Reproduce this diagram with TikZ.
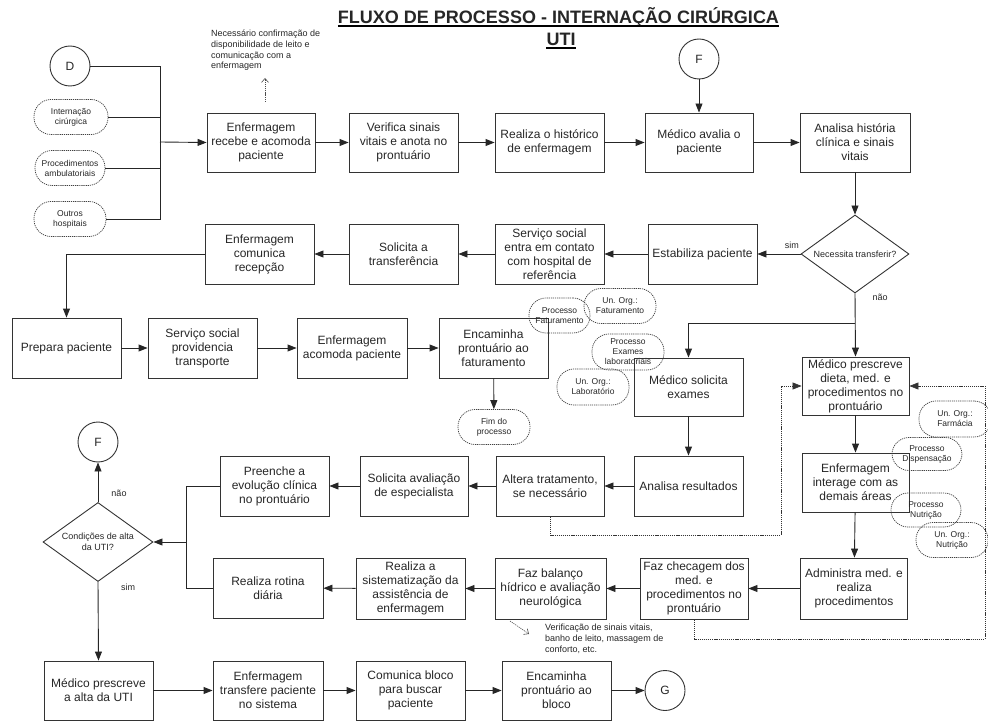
\documentclass[tikz,border=0pt]{standalone}
\usepackage{fontspec}
\setmainfont{Liberation Sans}
\usetikzlibrary{arrows.meta,shapes.geometric}

\begin{document}
\begin{tikzpicture}[x=1pt,y=-1pt,
  every node/.style={text=black!85},
  proc/.style={draw=black!80, line width=0.9pt, minimum width=108pt, minimum height=59pt,
    inner sep=0pt, align=center, font=\fontsize{12}{14}\selectfont},
  term/.style={draw=black!75, line width=0.7pt, dash pattern=on 1.2pt off 0.9pt,
    rounded corners=17pt, minimum width=72pt, minimum height=35pt, inner sep=0pt,
    align=center, font=\fontsize{8.5}{10}\selectfont},
  conn/.style={circle, draw=black!80, line width=0.9pt, minimum size=40pt, inner sep=0pt,
    font=\fontsize{12}{14}\selectfont},
  decision/.style={diamond, draw=black!80, line width=0.9pt, minimum width=108pt,
    minimum height=78pt, inner sep=0pt},
  small/.style={font=\fontsize{9}{10.7}\selectfont, inner sep=0pt, align=left},
  flow/.style={draw=black!85, line width=0.9pt, -{Triangle[length=9pt,width=7pt]}},
  link/.style={draw=black!85, line width=0.9pt},
  dotflow/.style={draw=black!80, line width=0.7pt, dash pattern=on 1.2pt off 0.9pt,
    -{Triangle[length=9pt,width=7pt]}},
  note/.style={draw=black!70, line width=0.6pt, dash pattern=on 1.2pt off 0.9pt,
    -{Straight Barb[length=4pt,width=7pt]}},
]
\useasboundingbox (0,0) rectangle (988,722);

% title
\node[anchor=base, inner sep=0pt, font=\fontsize{18}{20}\bfseries] (t1) at (558.5,24)
  {FLUXO DE PROCESSO - INTERNAÇÃO CIRÚRGICA};
\node[anchor=base, inner sep=0pt, font=\fontsize{18}{20}\bfseries] (t2) at (561,46) {UTI};
\draw[line width=1.2pt] ([yshift=-2pt]t1.base west) -- ([yshift=-2pt]t1.base east);
\draw[line width=1.2pt] ([yshift=-2pt]t2.base west) -- ([yshift=-2pt]t2.base east);

% entry points
\node[conn] (D) at (70,66) {D};
\node[term, minimum width=74pt] (o1) at (71,117) {Internação\\cirúrgica};
\node[term, minimum width=70pt] (o2) at (70,168) {Procedimentos\\ambulatoriais};
\node[term] (o3) at (70,219) {Outros\\hospitais};
\coordinate (bus) at (160,142);

% first row
\node[proc] (n1) at (261,142.5) {Enfermagem\\recebe e acomoda\\paciente};
\node[proc, minimum width=109pt] (n2) at (403.5,142.5) {Verifica sinais\\vitais e anota no\\prontuário};
\node[proc, minimum width=109pt] (n3) at (549.5,142.5) {Realiza o histórico\\de enfermagem};
\node[proc] (n4) at (699,142.5) {Médico avalia o\\paciente};
\node[proc, minimum width=110pt] (n5) at (855,142.5) {Analisa história\\clínica e sinais\\vitais};
\node[conn] (F1) at (699,59) {F};

\node[small, anchor=north west] (a1) at (211,30)
  {Necessário confirmação de\\disponibilidade de leito e\\comunicação com a\\enfermagem};
\coordinate (a1b) at (265,102);
\coordinate (a1t) at (265,78);

% transfer branch
\node[decision] (q1) at (855,254) {};
\node[small, align=center] at (q1) {Necessita transferir?};
\node[proc, minimum width=109pt, minimum height=60pt] (r1) at (702.5,254) {Estabiliza paciente};
\node[proc, minimum width=109pt, minimum height=60pt] (r2) at (549.5,254) {Serviço social\\entra em contato\\com hospital de\\referência};
\node[proc, minimum width=109pt, minimum height=60pt] (r3) at (403.5,254) {Solicita a\\transferência};
\node[proc, minimum width=109pt, minimum height=60pt] (r4) at (259.5,254) {Enfermagem\\comunica\\recepção};

\node[proc, minimum width=109pt, minimum height=60pt] (p1) at (66.5,348) {Prepara paciente};
\node[proc, minimum width=109pt, minimum height=60pt] (p2) at (202.5,348) {Serviço social\\providencia\\transporte};
\node[proc, minimum width=110pt, minimum height=60pt] (p3) at (352,348) {Enfermagem\\acomoda paciente};
\node[proc, minimum width=109pt, minimum height=60pt] (p4) at (493.5,348) {Encaminha\\prontuário ao\\faturamento};
\node[term] (fim) at (494,427) {Fim do\\processo};

\node[term, minimum width=61pt] (ofat) at (559.5,315.5) {Processo\\Faturamento};
\node[term] (ouf) at (620,306) {Un. Org.:\\Faturamento};
\node[term, minimum height=36pt] (oex) at (628,352) {Processo\\Exames\\laboratoriais};
\node[term, minimum height=36pt] (oul) at (593,387) {Un. Org.:\\Laboratório};

% stay in the unit
\coordinate (j1) at (855,323);
\node[proc, minimum width=109pt, minimum height=58pt] (ms) at (688.5,387) {Médico solicita\\exames};
\node[proc, minimum width=107pt, minimum height=58pt] (mp) at (855.5,386) {Médico prescreve\\dieta, med. e\\procedimentos no\\prontuário};
\node[proc, minimum width=109pt, minimum height=60pt] (ar) at (688.5,486) {Analisa resultados};
\node[proc, minimum width=108pt, minimum height=60pt] (at) at (550,486) {Altera tratamento,\\se necessário};
\node[proc, minimum width=108pt, minimum height=60pt] (sa) at (414,486) {Solicita avaliação\\de especialista};
\node[proc, minimum width=109pt, minimum height=60pt] (pe) at (274.5,486) {Preenche a\\evolução clínica\\no prontuário};
\node[proc, minimum width=107pt] (ei) at (855.5,482.5) {Enfermagem\\interage com as\\demais áreas};

\node[term, minimum height=36pt] (ofar) at (955,419) {Un. Org.:\\Farmácia};
\node[term, minimum width=70pt, minimum height=33pt] (odis) at (927,454) {Processo\\Dispensação};
\node[term, minimum width=70pt, minimum height=34pt] (onut) at (926,510) {Processo\\Nutrição};
\node[term] (oun) at (952,540) {Un. Org.:\\Nutrição};

\node[proc, minimum width=107pt, minimum height=61pt] (am) at (854,588.5) {Administra med. e\\realiza\\procedimentos};
\node[proc, minimum width=108pt, minimum height=61pt] (fc) at (694,588.5) {Faz checagem dos\\med. e\\procedimentos no\\prontuário};
\node[proc, minimum width=111pt, minimum height=61pt] (fb) at (550.5,588.5) {Faz balanço\\hídrico e avaliação\\neurológica};
\node[proc, minimum width=109pt, minimum height=61pt] (rs) at (410.5,588.5) {Realiza a\\sistematização da\\assistência de\\enfermagem};
\node[proc, minimum width=110pt, minimum height=60pt] (rr) at (268,588) {Realiza rotina\\diária};

\node[small, anchor=north west] (a2) at (545,624)
  {Verificação de sinais vitais,\\banho de leito, massagem de\\conforto, etc.};
\coordinate (a2s) at (510,621);
\coordinate (a2e) at (529,634);

% discharge
\coordinate (b2) at (186,542);
\node[decision, minimum width=110pt, minimum height=79pt] (q2) at (98,542) {};
\node[small, align=center] at (q2) {Condições de alta\\da UTI?};
\node[conn] (F2) at (98,442) {F};
\node[proc, minimum width=109pt, minimum height=59pt] (ma) at (98.5,690.5) {Médico prescreve\\a alta da UTI};
\node[proc, minimum width=110pt, minimum height=59pt] (et) at (268,690.5) {Enfermagem\\transfere paciente\\no sistema};
\node[proc, minimum width=109pt, minimum height=59pt] (cb) at (410.5,690.5) {Comunica bloco\\para buscar\\paciente};
\node[proc, minimum width=109pt, minimum height=59pt] (eb) at (556.5,690.5) {Encaminha\\prontuário ao\\bloco};
\node[conn] (G) at (665,690.5) {G};

% connectors: admission
\draw[link] (D.east) -| (bus);
\draw[link] (o1.east) -| (bus);
\draw[link] (o2.east) -| (bus);
\draw[link] (o3.east) -| (bus);
\draw[flow] (bus) -- (n1.west);
\draw[flow] (n1) -- (n2);
\draw[flow] (n2) -- (n3);
\draw[flow] (n3) -- (n4);
\draw[flow] (n4) -- (n5);
\draw[flow] (F1) -- (n4);
\draw[flow] (n5) -- (q1);
\draw[note] (a1b) -- (a1t);

% connectors: transfer
\draw[flow] (q1.west) -- (r1.east) node[pos=0.2, above=5pt, small] {sim};
\draw[flow] (r1) -- (r2);
\draw[flow] (r2) -- (r3);
\draw[flow] (r3) -- (r4);
\draw[flow] (r4.west) -| (p1.north);
\draw[flow] (p1) -- (p2);
\draw[flow] (p2) -- (p3);
\draw[flow] (p3) -- (p4);
\draw[flow] (p4) -- (fim);

% connectors: stay
\draw[flow] (q1.south) -- (mp.north);
\node[small] at (880,297) {não};
\draw[flow] (j1) -| (ms.north);
\draw[flow] (ms) -- (ar);
\draw[flow] (ar) -- (at);
\draw[flow] (at) -- (sa);
\draw[flow] (sa) -- (pe);
\draw[flow] (mp) -- (ei);
\draw[flow] (ei) -- (am);
\draw[flow] (am) -- (fc);
\draw[flow] (fc) -- (fb);
\draw[flow] (fb) -- (rs);
\draw[flow] (rs) -- (rr);
\draw[note] (a2s) -- (a2e);

% feedback loops
\coordinate (d1) at (781,535);
\coordinate (d2) at (985,639);
\draw[dotflow] (at.south) |- (d1) |- (mp.west);
\draw[dotflow] (fc.south) |- (d2) |- (mp.east);

% connectors: discharge
\draw[link] (pe.west) -| (b2);
\draw[link] (rr.west) -| (b2);
\draw[flow] (b2) -- (q2.east);
\draw[flow] (q2.north) -- (F2.south);
\node[small] at (119,493) {não};
\draw[flow] (q2.south) -- (ma.north);
\node[small] at (128,587) {sim};
\draw[flow] (ma) -- (et);
\draw[flow] (et) -- (cb);
\draw[flow] (cb) -- (eb);
\draw[flow] (eb) -- (G);
\end{tikzpicture}
\end{document}
